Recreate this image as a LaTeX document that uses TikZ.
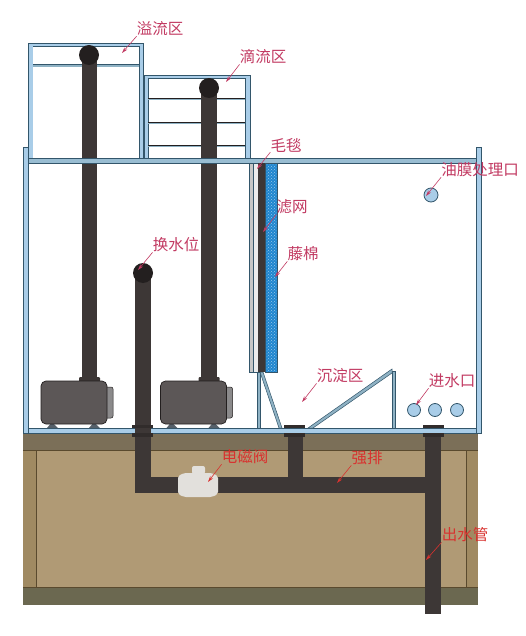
\documentclass[tikz,border=0pt]{standalone}
\usepackage{fontspec}
\setmainfont{Noto Sans CJK SC}
\usetikzlibrary{patterns,arrows.meta}
\definecolor{wallblue}{HTML}{A9CDE8}
\definecolor{walledge}{HTML}{33566B}
\definecolor{barblue}{HTML}{8FB2C4}
\definecolor{pipedark}{HTML}{3D3736}
\definecolor{ballblack}{HTML}{231F1F}
\definecolor{standtan}{HTML}{B09A75}
\definecolor{standleg}{HTML}{A08A62}
\definecolor{standband}{HTML}{7B6F58}
\definecolor{standfoot}{HTML}{6B6850}
\definecolor{standline}{HTML}{5A4A2E}
\definecolor{pumpbody}{HTML}{5C5757}
\definecolor{pumpback}{HTML}{8B8A8B}
\definecolor{pumpfoot}{HTML}{55606A}
\definecolor{labelrose}{HTML}{C23A62}
\definecolor{labelred}{HTML}{D8322F}
\definecolor{meshblue}{HTML}{1F86CF}
\definecolor{valvegrey}{HTML}{E2E0DC}
\tikzset{
  x=1pt,y=-1pt,
  wall/.style={fill=wallblue,draw=walledge,line width=0.7pt},
  shelf/.style={fill=barblue,draw=none},
  shelfline/.style={draw=ballblack,line width=0.9pt},
  pipe/.style={fill=pipedark,draw=none},
  ball/.style={fill=ballblack,draw=none},
  capdark/.style={fill=pipedark!80!black,draw=none},
  pump/.style={fill=pumpbody,draw=ballblack,line width=0.7pt,rounded corners=5pt},
  pumprear/.style={fill=pumpback,draw=ballblack,line width=0.5pt,rounded corners=2pt},
  pumpleg/.style={fill=pumpfoot,draw=none},
  hole/.style={fill=wallblue,draw=walledge,line width=0.8pt},
  standfill/.style={draw=standline,line width=0.6pt},
  tag/.style={inner sep=0pt,font=\fontsize{15.5}{15.5}\selectfont,text=labelrose},
  redtag/.style={tag,text=labelred},
  leader/.style={draw=labelrose,line width=0.6pt,-{Stealth[length=6pt,width=3.5pt]}},
  redleader/.style={leader,draw=labelred,-{Stealth[length=6pt,width=3.5pt,color=labelred]}}
}
\begin{document}
\begin{tikzpicture}
\useasboundingbox (0,0) rectangle (526,636);
\fill[white] (0,0) rectangle (526,636);
% stand
\fill[standtan] (23,450) rectangle (478,587);
\fill[standleg] (23,450) rectangle (36,587);
\fill[standleg] (466,450) rectangle (478,587);
\draw[standfill] (36,450) -- (36,587);
\draw[standfill] (466,450) -- (466,587);
\fill[standband] (23,433) rectangle (478,450);
\draw[standline,line width=0.6pt] (23,450) -- (478,450);
\fill[standfoot] (23,587) rectangle (478,605);
\draw[standline,line width=0.8pt] (23,587) -- (478,587);
% sump pipes
\fill[pipe] (135,477) rectangle (441,493);
\fill[pipe] (135,273) rectangle (151,493);
\fill[pipe] (288,433) rectangle (303,480);
\fill[pipe] (425,433) rectangle (441,614);
% upper boxes
\draw[wall] (28,43) rectangle (143,158);
\fill[white] (33,46) rectangle (139,158);
\draw[walledge,line width=0.5pt] (33,46) -- (139,46) -- (139,158);
\fill[shelf] (33,64) rectangle (139,67);
\draw[walledge,line width=0.5pt] (33,64) -- (139,64);
\draw[wall] (144,75) rectangle (250,158);
\fill[white] (148,78) rectangle (245,158);
\draw[walledge,line width=0.5pt] (148,158) -- (148,78) -- (245,78) -- (245,158);
\foreach \yy in {98,122,145}{
  \fill[shelf] (148,\yy) rectangle (245,\yy+2);
  \draw[shelfline] (148,\yy) -- (245,\yy);
}
% tank walls
\draw[wall] (23,147) rectangle (28,433);
\draw[wall] (476,147) rectangle (481,433);
% return pipes
\fill[pipe] (82,55) rectangle (97,381);
\fill[pipe] (201,88) rectangle (217,381);
\fill[ball] (89,55) circle (10);
\fill[ball] (209,88) circle (10);
\fill[ball] (143,273) circle (10);
% tank lid and floor
\draw[wall,fill=barblue!60!wallblue] (28,158) rectangle (476,163);
\draw[wall] (28,428) rectangle (476,433);
% pumps
\foreach \px in {0,119.5}{
  \begin{scope}[xshift=\px pt]
    \fill[pumpleg] (52,422) -- (47,428) -- (58,428) -- cycle;
    \fill[pumpleg] (94,422) -- (89,428) -- (100,428) -- cycle;
    \fill[pipe,rounded corners=1pt] (79,377) rectangle (100,383);
    \draw[pumprear] (100,387) rectangle (113,418);
    \draw[pump] (41,381) rectangle (107,424);
  \end{scope}
}
% bulkheads
\foreach \cx in {142.5,294.5,433}{
  \fill[capdark] (\cx-10.5,425) rectangle (\cx+10.5,428);
  \fill[capdark] (\cx-10.5,433) rectangle (\cx+10.5,437);
}
\fill[pipe] (135,428) rectangle (151,433);
% filter stack
\draw[walledge,line width=0.5pt,fill=barblue] (257,372) rectangle (260,428);
\draw[walledge,line width=0.5pt,fill=barblue] (260,372) -- (263,372) -- (282,428) -- (279,428) -- cycle;
\draw[walledge,line width=0.5pt,fill=gray!45] (249,163) rectangle (253,372);
\draw[walledge,line width=0.5pt,fill=gray!15] (253,163) rectangle (258,372);
\fill[pipe] (258,163) rectangle (265,372);
\fill[meshblue] (265,163) rectangle (277,372);
\fill[pattern=crosshatch dots,pattern color=white!55!meshblue] (265,163) rectangle (277,372);
\draw[walledge,line width=0.5pt] (265,163) rectangle (277,372);
% baffle
\draw[walledge,line width=0.5pt,fill=barblue] (392,371) rectangle (395,428);
\draw[walledge,line width=0.5pt,fill=barblue] (308,428) -- (392,369) -- (392,373) -- (313,428) -- cycle;
% outlets
\node[hole,circle,minimum size=13pt,inner sep=0pt] (inleta) at (414,410) {};
\node[hole,circle,minimum size=13pt,inner sep=0pt] (inletb) at (435,410) {};
\node[hole,circle,minimum size=13pt,inner sep=0pt] (inletc) at (457,410) {};
\node[hole,circle,minimum size=14pt,inner sep=0pt] (skim) at (431,195) {};
% valve
\fill[valvegrey,rounded corners=2pt] (192,466) rectangle (205,474);
\fill[valvegrey,rounded corners=2pt] (178,476) -- (184,473) -- (212,473) -- (218,476) -- (218,494) -- (212,497) -- (184,497) -- (178,494) -- cycle;
% leader targets
\coordinate (overflowpt) at (122,53);
\coordinate (trickpt) at (226,82);
\coordinate (fleecept) at (257,169);
\coordinate (meshpt) at (263,232);
\coordinate (foampt) at (275,277);
\coordinate (skimpt) at (426,196);
\coordinate (swappt) at (138,270);
\coordinate (settlept) at (302,402);
\coordinate (inletpt) at (416,405);
\coordinate (valvept) at (208,482);
\coordinate (drainpt) at (337,483);
\coordinate (outpt) at (426,560);
% labels
\node[tag] (overflow) at (160,29) {溢流区};
\node[tag] (trick) at (263,57) {滴流区};
\node[tag] (fleece) at (286,145) {毛毯};
\node[tag] (mesh) at (292,207) {滤网};
\node[tag] (foam) at (303,254) {藤棉};
\node[tag] (skimtxt) at (480,170) {油膜处理口};
\node[tag] (swap) at (176,245) {换水位};
\node[tag] (settle) at (340,376) {沉淀区};
\node[tag] (inlet) at (452,381) {进水口};
\node[redtag] (valve) at (245,457) {电磁阀};
\node[redtag] (drain) at (367,458) {强排};
\node[redtag] (out) at (465,535) {出水管};
% leaders
\draw[leader] (overflow.south west) -- (overflowpt);
\draw[leader] (trick.south west) -- (trickpt);
\draw[leader] (fleece.south west) -- (fleecept);
\draw[leader] (mesh.south west) -- (meshpt);
\draw[leader] (foam.south west) -- (foampt);
\draw[leader] (skimtxt.south west) -- (skimpt);
\draw[leader] (swap.south west) -- (swappt);
\draw[leader] (settle.south west) -- (settlept);
\draw[leader] (inlet.south west) -- (inletpt);
\draw[redleader] (valve.south west) -- (valvept);
\draw[redleader] (drain.south west) -- (drainpt);
\draw[redleader] (out.south west) -- (outpt);
\end{tikzpicture}
\end{document}
